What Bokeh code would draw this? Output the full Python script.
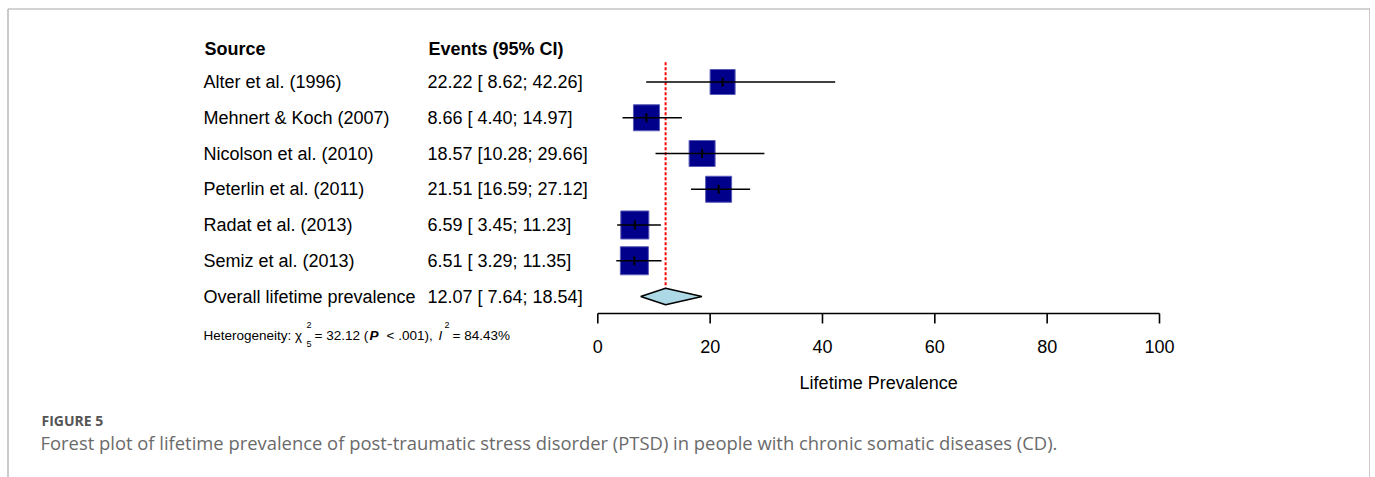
import math
from bokeh.plotting import figure
from bokeh.models import Range1d, ColumnDataSource
from bokeh.core.properties import value
from bokeh.embed import file_html
from bokeh.resources import INLINE

# ---------------- data ----------------
sources = ["Alter et al. (1996)", "Mehnert & Koch (2007)", "Nicolson et al. (2010)",
           "Peterlin et al. (2011)", "Radat et al. (2013)", "Semiz et al. (2013)"]
events = [22.22, 8.66, 18.57, 21.51, 6.59, 6.51]
lower = [8.62, 4.40, 10.28, 16.59, 3.45, 3.29]
upper = [42.26, 14.97, 29.66, 27.12, 11.23, 11.35]
weights = [14.8, 16.0, 16.0, 16.0, 18.6, 18.6]   # estimated study weights (%)
overall_label = "Overall lifetime prevalence"
overall = [12.07]
overall_lower = [7.64]
overall_upper = [18.54]
ticks = [0, 20, 40, 60, 80, 100]
x_label = "Lifetime Prevalence"
col_headers = ["Source", "Events (95% CI)"]
figure_label = "FIGURE 5"
caption = ("Forest plot of lifetime prevalence of post-traumatic stress disorder (PTSD) "
           "in people with chronic somatic diseases (CD).")

# ---------------- layout helpers (page pixels -> data) ----------------
W, H = 1370, 477
PX0 = 597.3          # page x of value 0
PXU = 5.617          # pixels per unit
ROW1 = 81.5          # page y of first study row
ROWH = 35.75         # row spacing in pixels


def X(px):
    return (px - PX0) / PXU


def R(py):
    return 1 + (py - ROW1) / ROWH


p = figure(width=W, height=H, output_backend="svg", toolbar_location=None,
           x_range=Range1d(X(0), X(W)), y_range=Range1d(R(H), R(0)),
           x_axis_type=None, y_axis_type=None, min_border=0,
           background_fill_color="white", border_fill_color="white")
p.outline_line_color = None
p.xgrid.visible = False
p.ygrid.visible = False

FONT = value("Liberation Sans")
FS = "18px"

# frame border (top, left, right)
p.segment(x0=[X(7.5), X(7.5), X(1369.5)], y0=[R(8.5), R(8.5), R(8.5)],
          x1=[X(1369.5), X(7.5), X(1369.5)], y1=[R(8.5), R(490), R(490)],
          line_color="#a8a8a8", line_width=1.2)

rows = list(range(1, len(sources) + 1))
orow = len(sources) + 1

# header
p.text(x=[X(204), X(428)], y=[R(48), R(48)], text=col_headers,
       text_font=FONT, text_font_size=FS, text_font_style="bold",
       text_baseline="middle", text_align="left", text_color="black")

labels = [f"{m:.2f} [{l:5.2f}; {u:5.2f}]" for m, l, u in zip(events, lower, upper)]
olabel = f"{overall[0]:.2f} [{overall_lower[0]:5.2f}; {overall_upper[0]:5.2f}]"

p.text(x=[X(203)] * (len(sources) + 1), y=rows + [orow], text=sources + [overall_label],
       text_font=FONT, text_font_size=FS, text_baseline="middle", text_align="left",
       text_color="black")
p.text(x=[X(427)] * (len(sources) + 1), y=rows + [orow], text=labels + [olabel],
       text_font=FONT, text_font_size=FS, text_baseline="middle", text_align="left",
       text_color="black")

# reference (overall) line
p.segment(x0=overall, y0=[1 - 0.55], x1=overall, y1=[orow - 0.25],
          line_color="red", line_width=2, line_dash="3 2")

# squares
tk = 4.5 / ROWH
sizes = [26 * math.sqrt(w / 16.0) for w in weights]
src = ColumnDataSource(dict(x=events, y=rows, lo=lower, hi=upper, s=sizes,
                            yt0=[r - tk for r in rows], yt1=[r + tk for r in rows]))
p.scatter(x="x", y="y", size="s", marker="square", source=src,
          fill_color="#00008B", line_color="#5a5ab8", line_width=1)
# CI lines and mean ticks
p.segment(x0="lo", y0="y", x1="hi", y1="y", source=src, line_color="black", line_width=1.6)
p.segment(x0="x", y0="yt0", x1="x", y1="yt1", source=src, line_color="black", line_width=2)

# overall diamond
dh = 8.3 / ROWH
p.patch(x=[overall_lower[0], overall[0], overall_upper[0], overall[0]],
        y=[orow, orow - dh, orow, orow + dh],
        fill_color="#ADD8E6", line_color="black", line_width=1.5)

# heterogeneity
HF = "13.5px"
hy = R(335)
p.text(x=[X(203)], y=[hy], text=["Heterogeneity: \u03c7"], text_font=FONT, text_font_size=HF,
       text_baseline="middle", text_color="black")
p.text(x=[X(306), X(306)], y=[R(324), R(343)], text=["2", str(len(sources) - 1)],
       text_font=FONT, text_font_size="9px", text_baseline="middle", text_color="black")
p.text(x=[X(314)], y=[hy], text=["= 32.12 ("], text_font=FONT, text_font_size=HF,
       text_baseline="middle", text_color="black")
p.text(x=[X(369)], y=[hy], text=["P"], text_font=FONT, text_font_size=HF,
       text_font_style="bold italic", text_baseline="middle", text_color="black")
p.text(x=[X(386)], y=[hy], text=["< .001),"], text_font=FONT, text_font_size=HF,
       text_baseline="middle", text_color="black")
p.text(x=[X(438)], y=[hy], text=["I"], text_font=FONT, text_font_size=HF,
       text_font_style="italic", text_baseline="middle", text_color="black")
p.text(x=[X(444)], y=[R(324)], text=["2"], text_font=FONT, text_font_size="9px",
       text_baseline="middle", text_color="black")
p.text(x=[X(452)], y=[hy], text=["= 84.43%"], text_font=FONT, text_font_size=HF,
       text_baseline="middle", text_color="black")

# x axis (drawn through the data scale)
ay = R(313)
ty = R(323)
p.segment(x0=[ticks[0]], y0=[ay], x1=[ticks[-1]], y1=[ay], line_color="black", line_width=1.6)
p.segment(x0=ticks, y0=[ay] * len(ticks), x1=ticks, y1=[ty] * len(ticks),
          line_color="black", line_width=1.6)
p.text(x=ticks, y=[R(346)] * len(ticks), text=[str(t) for t in ticks], text_font=FONT,
       text_font_size=FS, text_baseline="middle", text_align="center", text_color="black")
p.text(x=[(ticks[0] + ticks[-1]) / 2], y=[R(382)], text=[x_label], text_font=FONT,
       text_font_size=FS, text_baseline="middle", text_align="center", text_color="black")

# caption
p.text(x=[X(41)], y=[R(420)], text=[figure_label], text_font=value("Open Sans"),
       text_font_size="14px", text_font_style="bold", text_baseline="middle",
       text_color="#555555")
p.text(x=[X(40)], y=[R(442)], text=[caption], text_font=value("Open Sans"),
       text_font_size="18.4px", text_baseline="middle", text_color="#6a6a6a")

open("out.html", "w").write(file_html(p, INLINE))
